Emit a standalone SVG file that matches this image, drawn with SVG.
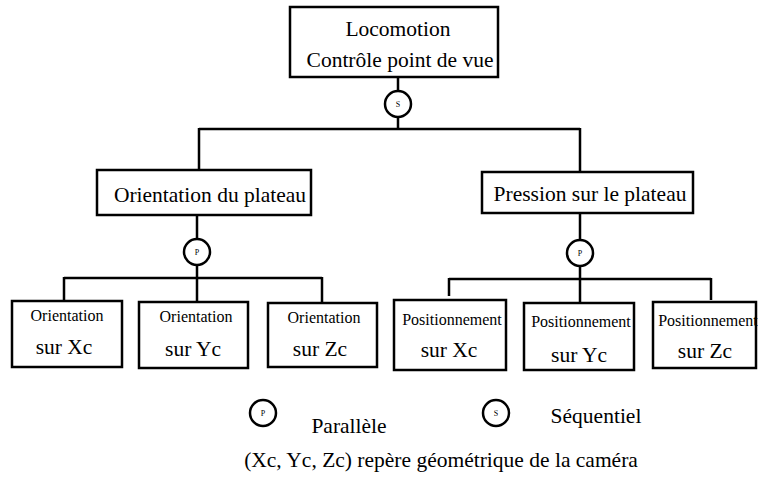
<svg xmlns="http://www.w3.org/2000/svg" width="758" height="482" viewBox="0 0 758 482">
<style>
.box{fill:#fff;stroke:#000;stroke-width:2.5}
.ln{fill:none;stroke:#000;stroke-width:2.5}
.op{fill:#fff;stroke:#000;stroke-width:2.5}
text{fill:#000;text-anchor:middle}
.big{font-size:21.5px}
.sm{font-size:16px}
.op-t{font-size:8px}
</style>
<rect width="758" height="482" fill="#fff"/>
<g font-family="'Liberation Serif', 'DejaVu Serif', serif">
<g id="connectors">
<path class="ln" d="M398 77V91M398 117V129M199 129H580M199 128V170M580 128V172"/>
<path class="ln" d="M197 215V239M197 265V278M64 278H322M64 277V300M197 277V302M322 277V303"/>
<path class="ln" d="M580 213V240M580 266V279M449 279H711M449 278V296M580 278V303M711 278V300"/>
</g>
<g id="op-s-top"><circle class="op" cx="398" cy="104" r="13"/><text class="op-t" x="398" y="107">S</text></g>
<g id="op-p-left"><circle class="op" cx="197" cy="252" r="13"/><text class="op-t" x="197" y="255">P</text></g>
<g id="op-p-right"><circle class="op" cx="580" cy="253" r="13"/><text class="op-t" x="580" y="256">P</text></g>
<g id="root"><rect class="box" x="290" y="7" width="208" height="70"/>
<text class="big" x="398" y="36">Locomotion</text>
<text class="big" x="400" y="67">Contrôle point de vue</text></g>
<g id="orientation-plateau"><rect class="box" x="97" y="170" width="214" height="45"/>
<text class="big" x="210" y="202">Orientation du plateau</text></g>
<g id="pression-plateau"><rect class="box" x="482" y="172" width="211" height="41"/>
<text class="big" x="590" y="201">Pression sur le plateau</text></g>
<g id="or-xc"><rect class="box" x="12" y="301" width="110" height="66"/>
<text class="sm" x="67" y="321">Orientation</text><text class="big" x="64" y="354">sur Xc</text></g>
<g id="or-yc"><rect class="box" x="139" y="302" width="109" height="66"/>
<text class="sm" x="196" y="322">Orientation</text><text class="big" x="193" y="356">sur Yc</text></g>
<g id="or-zc"><rect class="box" x="268" y="303" width="109" height="64"/>
<text class="sm" x="324" y="323">Orientation</text><text class="big" x="320" y="356">sur Zc</text></g>
<g id="pos-xc"><rect class="box" x="394" y="300" width="112" height="70"/>
<text class="sm" x="452" y="325">Positionnement</text><text class="big" x="449" y="357">sur Xc</text></g>
<g id="pos-yc"><rect class="box" x="524" y="303" width="110" height="67"/>
<text class="sm" x="581" y="327">Positionnement</text><text class="big" x="579" y="362">sur Yc</text></g>
<g id="pos-zc"><rect class="box" x="653" y="302" width="103" height="66"/>
<text class="sm" x="708" y="326">Positionnement</text><text class="big" x="705" y="358">sur Zc</text></g>
<g id="legend">
<circle class="op" cx="263" cy="413" r="13"/><text class="op-t" x="263" y="416">P</text>
<text class="big" x="349" y="433">Parallèle</text>
<circle class="op" cx="496" cy="413" r="13"/><text class="op-t" x="496" y="416">S</text>
<text class="big" x="596" y="423">Séquentiel</text>
<text class="big" x="441" y="467">(Xc, Yc, Zc) repère géométrique de la caméra</text>
</g>
</g>
</svg>
